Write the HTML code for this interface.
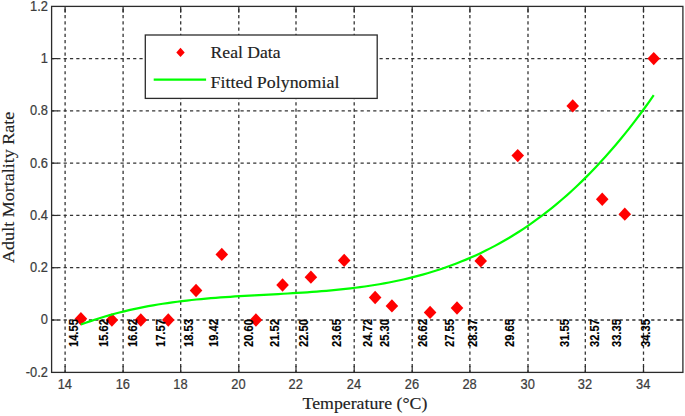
<!DOCTYPE html>
<html><head><meta charset="utf-8"><style>
html,body{margin:0;padding:0;background:#fff;}
svg{display:block;}
.gh{stroke:#333333;stroke-width:1.3;stroke-dasharray:3.2 3.118;stroke-dashoffset:0.61;fill:none;}
.gv{stroke:#333333;stroke-width:1.3;stroke-dasharray:3.2 3.03;stroke-dashoffset:3.78;fill:none;}
.t{stroke:#2b2b2b;stroke-width:1.2;}
.box{fill:none;stroke:#2b2b2b;stroke-width:1.3;}
.tk{font-family:"Liberation Sans",sans-serif;font-size:15.5px;fill:#3c3c3c;stroke:#3c3c3c;stroke-width:0.25;}
.dl{font-family:"Liberation Sans",sans-serif;font-size:12.2px;font-weight:bold;fill:#000;stroke:#000;stroke-width:0.15;}
.d{fill:#ff0000;stroke:none;}
.c{fill:none;stroke:#00ff00;stroke-width:2.2;stroke-linejoin:round;}
.lg{fill:#fff;stroke:#2b2b2b;stroke-width:1.3;}
.lt{font-family:"Liberation Serif",serif;font-size:17.1px;fill:#222;stroke:#222;stroke-width:0.15;}
.al{font-family:"Liberation Serif",serif;font-size:16px;fill:#222;stroke:#222;stroke-width:0.15;}
</style></head><body>
<svg width="685" height="416" viewBox="0 0 685 416">
<rect width="685" height="416" fill="#fff"/>
<line x1="65.10" y1="6.4" x2="65.10" y2="372.4" class="gv"/>
<line x1="123.10" y1="6.4" x2="123.10" y2="372.4" class="gv"/>
<line x1="180.70" y1="6.4" x2="180.70" y2="372.4" class="gv"/>
<line x1="238.80" y1="6.4" x2="238.80" y2="372.4" class="gv"/>
<line x1="296.00" y1="6.4" x2="296.00" y2="372.4" class="gv"/>
<line x1="354.20" y1="6.4" x2="354.20" y2="372.4" class="gv"/>
<line x1="412.20" y1="6.4" x2="412.20" y2="372.4" class="gv"/>
<line x1="469.90" y1="6.4" x2="469.90" y2="372.4" class="gv"/>
<line x1="528.00" y1="6.4" x2="528.00" y2="372.4" class="gv"/>
<line x1="585.30" y1="6.4" x2="585.30" y2="372.4" class="gv"/>
<line x1="643.50" y1="6.4" x2="643.50" y2="372.4" class="gv"/>
<line x1="51.6" y1="320.00" x2="682.9" y2="320.00" class="gh"/>
<line x1="51.6" y1="267.72" x2="682.9" y2="267.72" class="gh"/>
<line x1="51.6" y1="215.44" x2="682.9" y2="215.44" class="gh"/>
<line x1="51.6" y1="163.16" x2="682.9" y2="163.16" class="gh"/>
<line x1="51.6" y1="110.88" x2="682.9" y2="110.88" class="gh"/>
<line x1="51.6" y1="58.60" x2="682.9" y2="58.60" class="gh"/>
<line x1="65.10" y1="372.4" x2="65.10" y2="366.10" class="t"/>
<line x1="65.10" y1="6.4" x2="65.10" y2="12.70" class="t"/>
<line x1="123.10" y1="372.4" x2="123.10" y2="366.10" class="t"/>
<line x1="123.10" y1="6.4" x2="123.10" y2="12.70" class="t"/>
<line x1="180.70" y1="372.4" x2="180.70" y2="366.10" class="t"/>
<line x1="180.70" y1="6.4" x2="180.70" y2="12.70" class="t"/>
<line x1="238.80" y1="372.4" x2="238.80" y2="366.10" class="t"/>
<line x1="238.80" y1="6.4" x2="238.80" y2="12.70" class="t"/>
<line x1="296.00" y1="372.4" x2="296.00" y2="366.10" class="t"/>
<line x1="296.00" y1="6.4" x2="296.00" y2="12.70" class="t"/>
<line x1="354.20" y1="372.4" x2="354.20" y2="366.10" class="t"/>
<line x1="354.20" y1="6.4" x2="354.20" y2="12.70" class="t"/>
<line x1="412.20" y1="372.4" x2="412.20" y2="366.10" class="t"/>
<line x1="412.20" y1="6.4" x2="412.20" y2="12.70" class="t"/>
<line x1="469.90" y1="372.4" x2="469.90" y2="366.10" class="t"/>
<line x1="469.90" y1="6.4" x2="469.90" y2="12.70" class="t"/>
<line x1="528.00" y1="372.4" x2="528.00" y2="366.10" class="t"/>
<line x1="528.00" y1="6.4" x2="528.00" y2="12.70" class="t"/>
<line x1="585.30" y1="372.4" x2="585.30" y2="366.10" class="t"/>
<line x1="585.30" y1="6.4" x2="585.30" y2="12.70" class="t"/>
<line x1="643.50" y1="372.4" x2="643.50" y2="366.10" class="t"/>
<line x1="643.50" y1="6.4" x2="643.50" y2="12.70" class="t"/>
<line x1="51.6" y1="320.00" x2="57.90" y2="320.00" class="t"/>
<line x1="682.9" y1="320.00" x2="676.60" y2="320.00" class="t"/>
<line x1="51.6" y1="267.72" x2="57.90" y2="267.72" class="t"/>
<line x1="682.9" y1="267.72" x2="676.60" y2="267.72" class="t"/>
<line x1="51.6" y1="215.44" x2="57.90" y2="215.44" class="t"/>
<line x1="682.9" y1="215.44" x2="676.60" y2="215.44" class="t"/>
<line x1="51.6" y1="163.16" x2="57.90" y2="163.16" class="t"/>
<line x1="682.9" y1="163.16" x2="676.60" y2="163.16" class="t"/>
<line x1="51.6" y1="110.88" x2="57.90" y2="110.88" class="t"/>
<line x1="682.9" y1="110.88" x2="676.60" y2="110.88" class="t"/>
<line x1="51.6" y1="58.60" x2="57.90" y2="58.60" class="t"/>
<line x1="682.9" y1="58.60" x2="676.60" y2="58.60" class="t"/>
<rect x="51.6" y="6.4" width="631.30" height="366.00" class="box"/>
<text transform="translate(48.0,376.68) scale(0.83,1)" class="tk" text-anchor="end">-0.2</text>
<text transform="translate(48.0,324.40) scale(0.83,1)" class="tk" text-anchor="end">0</text>
<text transform="translate(48.0,272.12) scale(0.83,1)" class="tk" text-anchor="end">0.2</text>
<text transform="translate(48.0,219.84) scale(0.83,1)" class="tk" text-anchor="end">0.4</text>
<text transform="translate(48.0,167.56) scale(0.83,1)" class="tk" text-anchor="end">0.6</text>
<text transform="translate(48.0,115.28) scale(0.83,1)" class="tk" text-anchor="end">0.8</text>
<text transform="translate(48.0,63.00) scale(0.83,1)" class="tk" text-anchor="end">1</text>
<text transform="translate(48.0,10.72) scale(0.83,1)" class="tk" text-anchor="end">1.2</text>
<text transform="translate(64.80,389.2) scale(0.83,1)" class="tk" text-anchor="middle">14</text>
<text transform="translate(122.80,389.2) scale(0.83,1)" class="tk" text-anchor="middle">16</text>
<text transform="translate(180.40,389.2) scale(0.83,1)" class="tk" text-anchor="middle">18</text>
<text transform="translate(238.50,389.2) scale(0.83,1)" class="tk" text-anchor="middle">20</text>
<text transform="translate(295.70,389.2) scale(0.83,1)" class="tk" text-anchor="middle">22</text>
<text transform="translate(353.90,389.2) scale(0.83,1)" class="tk" text-anchor="middle">24</text>
<text transform="translate(411.90,389.2) scale(0.83,1)" class="tk" text-anchor="middle">26</text>
<text transform="translate(469.60,389.2) scale(0.83,1)" class="tk" text-anchor="middle">28</text>
<text transform="translate(527.70,389.2) scale(0.83,1)" class="tk" text-anchor="middle">30</text>
<text transform="translate(585.00,389.2) scale(0.83,1)" class="tk" text-anchor="middle">32</text>
<text transform="translate(643.20,389.2) scale(0.83,1)" class="tk" text-anchor="middle">34</text>
<polygon points="74.61,318.69 80.91,311.99 87.21,318.69 80.91,325.39" class="d"/>
<polygon points="105.57,320.00 111.87,313.30 118.17,320.00 111.87,326.70" class="d"/>
<polygon points="134.50,320.00 140.80,313.30 147.10,320.00 140.80,326.70" class="d"/>
<polygon points="161.98,320.00 168.28,313.30 174.58,320.00 168.28,326.70" class="d"/>
<polygon points="189.75,290.46 196.05,283.76 202.35,290.46 196.05,297.16" class="d"/>
<polygon points="215.50,254.39 221.80,247.69 228.10,254.39 221.80,261.09" class="d"/>
<polygon points="249.64,320.00 255.94,313.30 262.24,320.00 255.94,326.70" class="d"/>
<polygon points="276.25,284.97 282.55,278.27 288.85,284.97 282.55,291.67" class="d"/>
<polygon points="304.60,277.13 310.90,270.43 317.20,277.13 310.90,283.83" class="d"/>
<polygon points="337.87,260.40 344.17,253.70 350.47,260.40 344.17,267.10" class="d"/>
<polygon points="368.83,297.52 375.13,290.82 381.43,297.52 375.13,304.22" class="d"/>
<polygon points="385.61,305.88 391.91,299.18 398.21,305.88 391.91,312.58" class="d"/>
<polygon points="423.80,312.42 430.10,305.72 436.40,312.42 430.10,319.12" class="d"/>
<polygon points="450.70,307.98 457.00,301.28 463.30,307.98 457.00,314.68" class="d"/>
<polygon points="474.42,260.92 480.72,254.22 487.02,260.92 480.72,267.62" class="d"/>
<polygon points="511.45,155.58 517.75,148.88 524.05,155.58 517.75,162.28" class="d"/>
<polygon points="566.42,105.91 572.72,99.21 579.02,105.91 572.72,112.61" class="d"/>
<polygon points="595.93,199.23 602.23,192.53 608.53,199.23 602.23,205.93" class="d"/>
<polygon points="618.50,214.13 624.80,207.43 631.10,214.13 624.80,220.83" class="d"/>
<polygon points="647.43,58.60 653.73,51.90 660.03,58.60 653.73,65.30" class="d"/>
<text transform="translate(77.51,319.2) rotate(-90) scale(0.91,1)" class="dl" text-anchor="end">14.55</text>
<text transform="translate(108.47,319.2) rotate(-90) scale(0.91,1)" class="dl" text-anchor="end">15.62</text>
<text transform="translate(137.40,319.2) rotate(-90) scale(0.91,1)" class="dl" text-anchor="end">16.62</text>
<text transform="translate(164.88,319.2) rotate(-90) scale(0.91,1)" class="dl" text-anchor="end">17.57</text>
<text transform="translate(192.65,319.2) rotate(-90) scale(0.91,1)" class="dl" text-anchor="end">18.53</text>
<text transform="translate(218.40,319.2) rotate(-90) scale(0.91,1)" class="dl" text-anchor="end">19.42</text>
<text transform="translate(252.54,319.2) rotate(-90) scale(0.91,1)" class="dl" text-anchor="end">20.60</text>
<text transform="translate(279.15,319.2) rotate(-90) scale(0.91,1)" class="dl" text-anchor="end">21.52</text>
<text transform="translate(307.50,319.2) rotate(-90) scale(0.91,1)" class="dl" text-anchor="end">22.50</text>
<text transform="translate(340.77,319.2) rotate(-90) scale(0.91,1)" class="dl" text-anchor="end">23.65</text>
<text transform="translate(371.73,319.2) rotate(-90) scale(0.91,1)" class="dl" text-anchor="end">24.72</text>
<text transform="translate(388.51,319.2) rotate(-90) scale(0.91,1)" class="dl" text-anchor="end">25.30</text>
<text transform="translate(426.70,319.2) rotate(-90) scale(0.91,1)" class="dl" text-anchor="end">26.62</text>
<text transform="translate(453.60,319.2) rotate(-90) scale(0.91,1)" class="dl" text-anchor="end">27.55</text>
<text transform="translate(477.32,319.2) rotate(-90) scale(0.91,1)" class="dl" text-anchor="end">28.37</text>
<text transform="translate(514.35,319.2) rotate(-90) scale(0.91,1)" class="dl" text-anchor="end">29.65</text>
<text transform="translate(569.32,319.2) rotate(-90) scale(0.91,1)" class="dl" text-anchor="end">31.55</text>
<text transform="translate(598.83,319.2) rotate(-90) scale(0.91,1)" class="dl" text-anchor="end">32.57</text>
<text transform="translate(621.40,319.2) rotate(-90) scale(0.91,1)" class="dl" text-anchor="end">33.35</text>
<text transform="translate(650.33,319.2) rotate(-90) scale(0.91,1)" class="dl" text-anchor="end">34.35</text>
<polyline points="80.91,324.59 85.73,322.82 90.54,321.13 95.35,319.52 100.17,317.98 104.98,316.52 109.79,315.12 114.61,313.79 119.42,312.53 124.23,311.33 129.05,310.19 133.86,309.11 138.67,308.08 143.49,307.12 148.30,306.20 153.11,305.34 157.93,304.53 162.74,303.76 167.56,303.04 172.37,302.36 177.18,301.72 182.00,301.12 186.81,300.55 191.62,300.02 196.44,299.53 201.25,299.06 206.06,298.62 210.88,298.21 215.69,297.82 220.50,297.46 225.32,297.11 230.13,296.78 234.95,296.47 239.76,296.17 244.57,295.89 249.39,295.61 254.20,295.34 259.01,295.08 263.83,294.82 268.64,294.56 273.45,294.30 278.27,294.04 283.08,293.77 287.89,293.49 292.71,293.21 297.52,292.92 302.34,292.61 307.15,292.29 311.96,291.95 316.78,291.59 321.59,291.21 326.40,290.81 331.22,290.38 336.03,289.92 340.84,289.44 345.66,288.92 350.47,288.37 355.28,287.78 360.10,287.15 364.91,286.49 369.73,285.78 374.54,285.03 379.35,284.23 384.17,283.39 388.98,282.49 393.79,281.54 398.61,280.54 403.42,279.48 408.23,278.36 413.05,277.18 417.86,275.94 422.67,274.63 427.49,273.26 432.30,271.82 437.12,270.31 441.93,268.72 446.74,267.06 451.56,265.32 456.37,263.50 461.18,261.60 466.00,259.62 470.81,257.55 475.62,255.40 480.44,253.15 485.25,250.82 490.06,248.39 494.88,245.86 499.69,243.23 504.51,240.51 509.32,237.68 514.13,234.75 518.95,231.72 523.76,228.57 528.57,225.32 533.39,221.95 538.20,218.47 543.01,214.87 547.83,211.15 552.64,207.32 557.45,203.35 562.27,199.27 567.08,195.06 571.89,190.72 576.71,186.25 581.52,181.64 586.34,176.90 591.15,172.02 595.96,167.01 600.78,161.85 605.59,156.55 610.40,151.10 615.22,145.51 620.03,139.76 624.84,133.87 629.66,127.82 634.47,121.61 639.28,115.25 644.10,108.73 648.91,102.04 653.73,95.20" class="c"/>
<rect x="145.3" y="35" width="231.9" height="63.4" class="lg"/>
<polygon points="176.3,52.4 180.5,47.8 184.7,52.4 180.5,57.0" class="d"/>
<line x1="153.7" y1="79.7" x2="206.1" y2="79.7" class="c"/>
<text x="210.6" y="57.7" class="lt" textLength="70" lengthAdjust="spacingAndGlyphs">Real Data</text>
<text x="210.6" y="87.8" class="lt" textLength="128.8" lengthAdjust="spacingAndGlyphs">Fitted Polynomial</text>
<text transform="translate(14.3,187.3) rotate(-90)" class="al" text-anchor="middle" textLength="151.3" lengthAdjust="spacingAndGlyphs">Adult Mortality Rate</text>
<text x="365" y="409.3" class="al" text-anchor="middle" textLength="124.8" lengthAdjust="spacingAndGlyphs">Temperature (°C)</text>
</svg>
</body></html>
